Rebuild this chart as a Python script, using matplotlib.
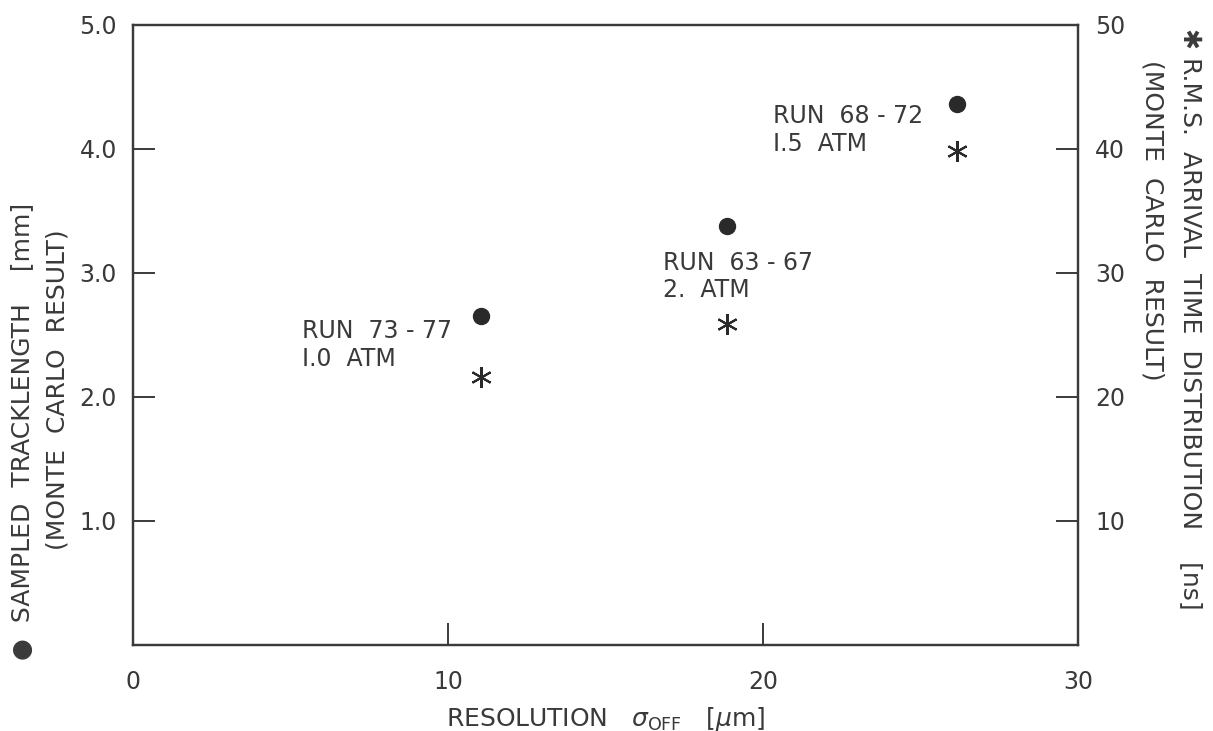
import matplotlib
matplotlib.use("Agg")
import matplotlib.pyplot as plt

# values
resolution = [11.05, 18.85, 26.15]         # sigma_off [um]
tracklength = [2.65, 3.38, 4.36]           # sampled tracklength [mm]
arrival_rms = [21.6, 25.9, 39.8]           # r.m.s. arrival time [ns]
run_labels = ["RUN  73 - 77\nI.0  ATM", "RUN  63 - 67\n2.  ATM", "RUN  68 - 72\nI.5  ATM"]
label_pos = [(5.35, 2.42), (16.8, 2.97), (20.3, 4.15)]

x_ticks = [0, 10, 20, 30]
left_ticks = [1.0, 2.0, 3.0, 4.0, 5.0]
right_ticks = [10, 20, 30, 40, 50]

ink = "#3a3a3a"
plt.rcParams["font.family"] = ["DejaVu Sans"]

fig = plt.figure(figsize=(12.13, 7.31), dpi=100)
ax = fig.add_axes([0.110, 0.118, 0.779, 0.848])
ax2 = ax.twinx()

ax.set_xlim(0, 30)
ax.set_ylim(0, 5)
ax2.set_ylim(0, 50)

ax.plot(resolution, tracklength, "o", color="#2a2a2a", markersize=11.5, zorder=3)
ax2.plot(resolution, arrival_rms, linestyle="none", marker=(6, 2, 0), color="#2a2a2a",
         markersize=15, markeredgewidth=1.5, zorder=3)

for txt, (tx, ty) in zip(run_labels, label_pos):
    ax.text(tx, ty, txt, fontsize=17, color=ink, ha="left", va="center", linespacing=1.2)

for a in (ax, ax2):
    for s in a.spines.values():
        s.set_color(ink)
        s.set_linewidth(1.6)

ax.set_xticks(x_ticks)
ax.set_xticklabels([str(t) for t in x_ticks])
ax.set_yticks(left_ticks)
ax.set_yticklabels([f"{t:.1f}" for t in left_ticks])
ax2.set_yticks(right_ticks)
ax2.set_yticklabels([str(t) for t in right_ticks])

ax.tick_params(axis="both", direction="in", length=16, width=1.4, color=ink,
               labelsize=17, labelcolor=ink)
ax.tick_params(axis="x", pad=18)
ax.tick_params(axis="y", pad=12)
ax2.tick_params(axis="y", direction="in", length=16, width=1.4, color=ink,
                labelsize=17, labelcolor=ink, pad=12)

ax.set_xlabel(r"RESOLUTION   $\sigma_{\mathrm{OFF}}$   [$\mu$m]", fontsize=18, color=ink, labelpad=8)

# left axis title, two lines starting at the bottom
fig.text(0.028, 0.097, "\u25CF  SAMPLED  TRACKLENGTH    [mm]", rotation=90, fontsize=18,
         color=ink, ha="left", va="bottom", rotation_mode="anchor")
fig.text(0.057, 0.248, "(MONTE  CARLO  RESULT)", rotation=90, fontsize=18,
         color=ink, ha="left", va="bottom", rotation_mode="anchor")

# right axis title, two lines starting at the top
fig.text(0.972, 0.962, "\u2731 R.M.S.  ARRIVAL  TIME  DISTRIBUTION    [ns]", rotation=-90,
         fontsize=18, color=ink, ha="left", va="bottom", rotation_mode="anchor")
fig.text(0.940, 0.918, "(MONTE  CARLO  RESULT)", rotation=-90,
         fontsize=18, color=ink, ha="left", va="bottom", rotation_mode="anchor")

fig.savefig("out.png", dpi=100)
